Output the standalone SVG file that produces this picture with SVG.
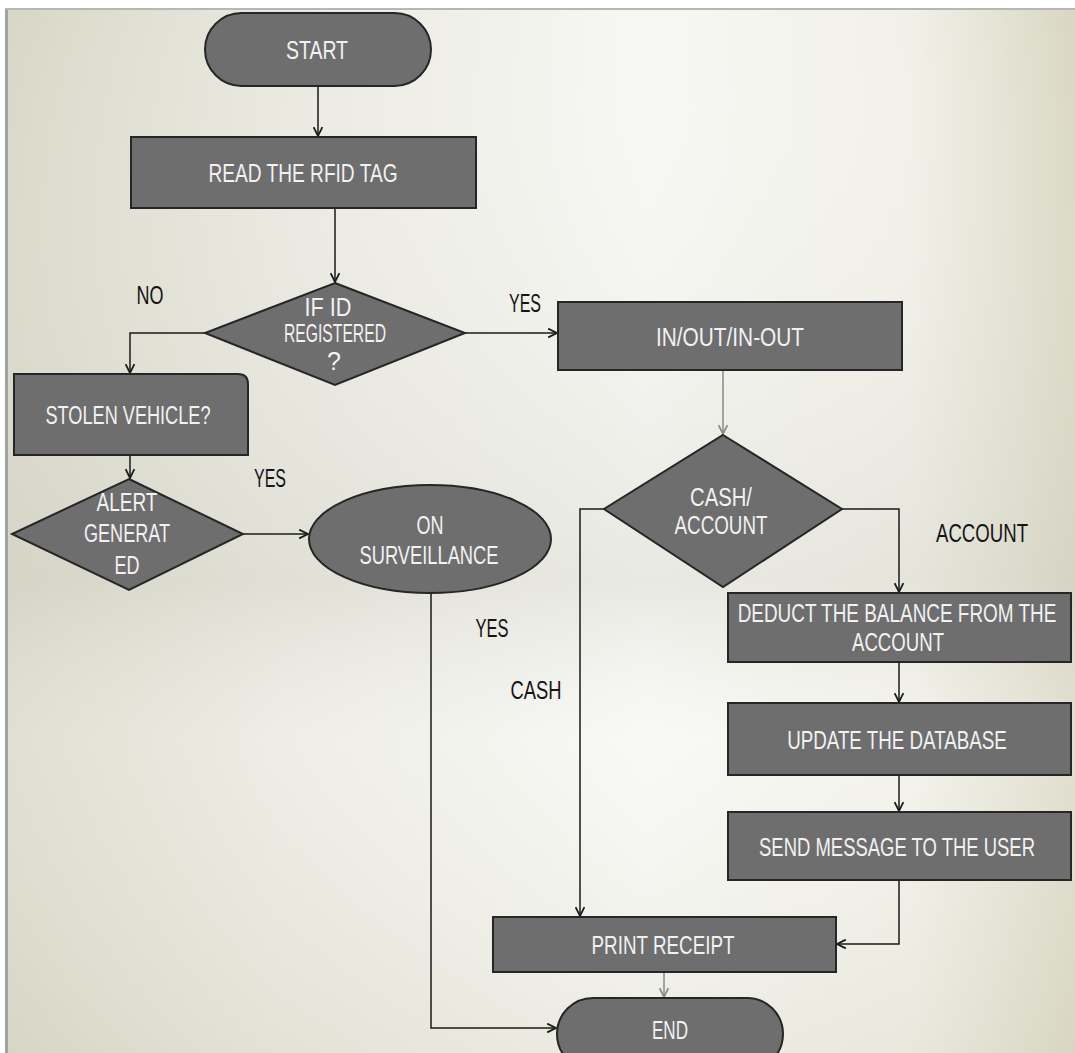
<svg xmlns="http://www.w3.org/2000/svg" width="1075" height="1053" viewBox="0 0 1075 1053">
<defs>
<linearGradient id="bg" x1="0" y1="0" x2="1" y2="0">
<stop offset="0" stop-color="#d8d7c6"/>
<stop offset="0.25" stop-color="#e9e8df"/>
<stop offset="0.6" stop-color="#f7f7f4"/>
<stop offset="0.85" stop-color="#f1f0e8"/>
<stop offset="1" stop-color="#d9d7c2"/>
</linearGradient>
<linearGradient id="band" x1="0" y1="0" x2="0" y2="1">
<stop offset="0" stop-color="#ffffff" stop-opacity="0"/>
<stop offset="0.55" stop-color="#cfcfc4" stop-opacity="0.35"/>
<stop offset="0.7" stop-color="#ffffff" stop-opacity="0.2"/>
<stop offset="1" stop-color="#d6d4c2" stop-opacity="0.3"/>
</linearGradient>
<marker id="arr" viewBox="0 0 10 10" refX="9" refY="5" markerWidth="11" markerHeight="11" markerUnits="userSpaceOnUse" orient="auto">
<path d="M1,1 L9,5 L1,9" fill="none" stroke="#1a1a1a" stroke-width="1.6"/>
</marker>
<marker id="arrg" viewBox="0 0 10 10" refX="9" refY="5" markerWidth="11" markerHeight="11" markerUnits="userSpaceOnUse" orient="auto">
<path d="M1,1 L9,5 L1,9" fill="none" stroke="#8a8a8a" stroke-width="1.6"/>
</marker>
</defs>
<style>
.n{fill:#6e6e6e;stroke:#262626;stroke-width:2}
.t{font-family:"Liberation Sans",Arial,sans-serif;font-size:25px;fill:#f2f2f2;text-anchor:middle}
.l{font-family:"Liberation Sans",Arial,sans-serif;font-size:25px;fill:#151515;text-anchor:middle}
.c{fill:none;stroke:#1a1a1a;stroke-width:1.5;marker-end:url(#arr)}
.g{fill:none;stroke:#8a8a8a;stroke-width:1.5;marker-end:url(#arrg)}
</style>
<rect width="1075" height="1053" fill="#ffffff"/>
<rect x="5" y="8" width="1070" height="1045" fill="url(#bg)"/>
<rect x="5" y="8" width="1070" height="1045" fill="url(#band)"/>
<rect x="5" y="8" width="3" height="1045" fill="#9ea3a3"/>
<rect x="5" y="8" width="1070" height="2" fill="#b5b7b5"/>

<g id="connectors">
<path class="c" d="M318,86 V136"/>
<path class="c" d="M335,208 V282"/>
<path class="c" d="M465,333 H557"/>
<path class="c" d="M205,333 H130 V373"/>
<path class="c" d="M130,455 V478"/>
<path class="c" d="M243,534 H308"/>
<path class="c" d="M431,593 V1028 H556"/>
<path class="g" d="M723,370 V434"/>
<path class="c" d="M842,509 H899 V592"/>
<path class="c" d="M604,509 H580 V916"/>
<path class="c" d="M899,662 V702"/>
<path class="c" d="M899,775 V811"/>
<path class="c" d="M899,880 V944 H837"/>
<path class="g" d="M664,972 V997"/>
</g>

<g id="labels">
<text class="l" x="150" y="304" textLength="27" lengthAdjust="spacingAndGlyphs">NO</text>
<text class="l" x="525" y="312" textLength="32" lengthAdjust="spacingAndGlyphs">YES</text>
<text class="l" x="270" y="487" textLength="32" lengthAdjust="spacingAndGlyphs">YES</text>
<text class="l" x="492" y="637" textLength="33" lengthAdjust="spacingAndGlyphs">YES</text>
<text class="l" x="536" y="699" textLength="51" lengthAdjust="spacingAndGlyphs">CASH</text>
<text class="l" x="982" y="542" textLength="92" lengthAdjust="spacingAndGlyphs">ACCOUNT</text>
</g>

<g id="start">
<rect class="n" x="205" y="13" width="226" height="73" rx="36.5"/>
<text class="t" x="317" y="59" textLength="62" lengthAdjust="spacingAndGlyphs">START</text>
</g>
<g id="read">
<rect class="n" x="131" y="137" width="345" height="71"/>
<text class="t" x="303" y="182" textLength="189" lengthAdjust="spacingAndGlyphs">READ THE RFID TAG</text>
</g>
<g id="registered">
<polygon class="n" points="335,283 465,333 335,385 205,333"/>
<text class="t" x="328" y="316" textLength="47" lengthAdjust="spacingAndGlyphs">IF  ID</text>
<text class="t" x="335" y="342" textLength="102" lengthAdjust="spacingAndGlyphs">REGISTERED</text>
<text class="t" x="334" y="370" font-size="21">?</text>
</g>
<g id="stolen">
<path class="n" d="M14,374 H238 Q248,374 248,384 V455 H14 Z"/>
<text class="t" x="128" y="424" textLength="165" lengthAdjust="spacingAndGlyphs">STOLEN VEHICLE?</text>
</g>
<g id="alert">
<polygon class="n" points="129,479 243,534 129,590 12,534"/>
<text class="t" x="127" y="511" textLength="61" lengthAdjust="spacingAndGlyphs">ALERT</text>
<text class="t" x="127" y="542" textLength="86" lengthAdjust="spacingAndGlyphs">GENERAT</text>
<text class="t" x="127" y="574" textLength="25" lengthAdjust="spacingAndGlyphs">ED</text>
</g>
<g id="surveillance">
<ellipse class="n" cx="430" cy="539" rx="121" ry="54"/>
<text class="t" x="430" y="534" textLength="27" lengthAdjust="spacingAndGlyphs">ON</text>
<text class="t" x="429" y="564" textLength="139" lengthAdjust="spacingAndGlyphs">SURVEILLANCE</text>
</g>
<g id="inout">
<rect class="n" x="558" y="302" width="344" height="68"/>
<text class="t" x="730" y="346" textLength="148" lengthAdjust="spacingAndGlyphs">IN/OUT/IN-OUT</text>
</g>
<g id="cash">
<polygon class="n" points="723,435 842,509 723,587 604,509"/>
<text class="t" x="721" y="506" textLength="62" lengthAdjust="spacingAndGlyphs">CASH/</text>
<text class="t" x="721" y="534" textLength="93" lengthAdjust="spacingAndGlyphs">ACCOUNT</text>
</g>
<g id="deduct">
<rect class="n" x="728" y="593" width="343" height="69"/>
<text class="t" transform="translate(897 622) scale(0.75 1)" x="0" y="0" textLength="425" lengthAdjust="spacingAndGlyphs">DEDUCT THE BALANCE FROM THE</text>
<text class="t" x="898" y="651" textLength="92" lengthAdjust="spacingAndGlyphs">ACCOUNT</text>
</g>
<g id="update">
<rect class="n" x="728" y="703" width="343" height="72"/>
<text class="t" transform="translate(897 749) scale(0.75 1)" x="0" y="0" textLength="293" lengthAdjust="spacingAndGlyphs">UPDATE THE DATABASE</text>
</g>
<g id="send">
<rect class="n" x="728" y="812" width="343" height="68"/>
<text class="t" transform="translate(897 856) scale(0.75 1)" x="0" y="0" textLength="368" lengthAdjust="spacingAndGlyphs">SEND MESSAGE TO THE USER</text>
</g>
<g id="print">
<rect class="n" x="493" y="917" width="343" height="55"/>
<text class="t" x="663" y="954" textLength="143" lengthAdjust="spacingAndGlyphs">PRINT RECEIPT</text>
</g>
<g id="end">
<rect class="n" x="557" y="998" width="226" height="72" rx="36"/>
<text class="t" x="670" y="1039" textLength="36" lengthAdjust="spacingAndGlyphs">END</text>
</g>
</svg>
